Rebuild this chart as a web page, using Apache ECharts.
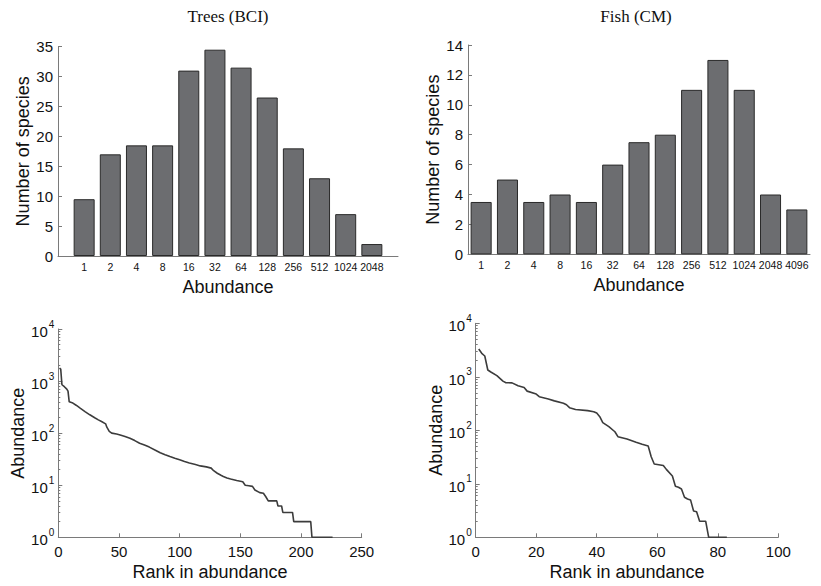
<!DOCTYPE html>
<html>
<head>
<meta charset="utf-8">
<script src="https://cdn.jsdelivr.net/npm/echarts@6/dist/echarts.min.js"></script>
<style>
html,body{margin:0;padding:0;background:#fff;}
#c{width:821px;height:586px;}
</style>
</head>
<body>
<div id="c"></div>
<script>
// ---- data ----
const treeTitle = 'Trees (BCI)';
const fishTitle = 'Fish (CM)';
const treeBins = ['1','2','4','8','16','32','64','128','256','512','1024','2048'];
const treeCounts = [9.5, 17, 18.5, 18.5, 31, 34.5, 31.5, 26.5, 18, 13, 7, 2];
const fishBins = ['1','2','4','8','16','32','64','128','256','512','1024','2048','4096'];
const fishCounts = [3.5, 5, 3.5, 4, 3.5, 6, 7.5, 8, 11, 13, 11, 4, 3];

const treeRanks = [1, 2, 3, 5, 7, 8, 9, 12, 15, 18, 22, 26, 30, 33, 36, 39, 40, 42, 44, 48, 51, 55, 59, 63, 67, 71, 75, 80, 84, 88, 92, 96, 100, 104, 108, 113, 117, 122, 126, 128, 131, 134, 136, 139, 142, 147, 152, 154, 157, 160, 162, 166, 169, 171, 173, 180, 181, 184, 185, 193, 194, 208, 209, 226];
const treeAbund = [1780, 1700, 850, 780, 700, 640, 400, 378, 340, 302, 260, 225, 198, 180, 165, 151, 130, 108, 100, 96, 92, 86, 80, 72, 64, 59, 54, 47, 42, 38.5, 35.5, 33, 30.8, 28.5, 26.7, 25, 23.5, 22.5, 21.3, 19, 17, 15.5, 14.7, 13.8, 13.2, 12.3, 11.7, 10, 9.8, 9.5, 8.1, 7.2, 7, 6, 5, 5, 4, 4, 3, 3, 2, 2, 1, 1];

const fishRanks = [1, 2, 3, 4, 5, 7, 9, 10, 12, 14, 16, 17, 20, 21, 24, 26, 29, 30, 31, 33, 37, 39, 40, 41, 42, 44, 46, 47, 50, 53, 55, 57, 58, 59, 61, 62, 63, 65, 66, 67, 68, 69, 70, 71, 72, 73, 74, 76, 77, 83];
const fishAbund = [3300, 2750, 2450, 1340, 1230, 1050, 830, 775, 770, 680, 630, 540, 475, 425, 385, 355, 320, 300, 265, 245, 233, 223, 210, 180, 139, 117, 94, 76, 69, 60, 55, 51, 32, 23.5, 22.5, 22, 18.6, 14, 9, 8.6, 8, 5.6, 5.2, 5, 3.1, 3, 2, 2, 1, 1];

const treeYTicks = [0, 5, 10, 15, 20, 25, 30, 35];
const fishYTicks = [0, 2, 4, 6, 8, 10, 12, 14];
const logMinorTicks = [2,3,4,5,6,7,8,9,20,30,40,50,60,70,80,90,200,300,400,500,600,700,800,900,2000,3000,4000,5000,6000,7000,8000,9000];

// ---- styles ----
const SANS = '"Liberation Sans", Arial, sans-serif';
const SERIF = '"Liberation Serif", "Times New Roman", serif';
const AXIS_COLOR = '#7a7a7a';
const TEXT_COLOR = '#111';
const BAR_FILL = '#6c6d70';
const BAR_EDGE = '#2a2a2a';
const LINE_COLOR = '#3c3c3c';

const grids = [
  {left: 58, top: 46.7, width: 340, height: 209.3},
  {left: 468, top: 45, width: 342, height: 209.3},
  {left: 58.3, top: 329, width: 303.4, height: 208.3},
  {left: 475.7, top: 323.3, width: 302.6, height: 214}
];

function axisLineStyle() { return {show: true, lineStyle: {color: AXIS_COLOR, width: 1}}; }
function nameStyle() { return {fontFamily: SANS, fontSize: 18, color: TEXT_COLOR}; }

const logLabel = {
  fontFamily: SANS, color: TEXT_COLOR, margin: 4,
  formatter: function (v) {
    const e = Math.round(Math.log10(v));
    return '{b|10}{s|' + e + '}';
  },
  rich: {
    b: {fontFamily: SANS, fontSize: 15, color: TEXT_COLOR, lineHeight: 20, verticalAlign: 'bottom'},
    s: {fontFamily: SANS, fontSize: 10, color: TEXT_COLOR, verticalAlign: 'top', padding: [0, 0, 0, 1]}
  }
};

const option = {
  backgroundColor: '#fff',
  animation: false,
  grid: grids.map(g => Object.assign({containLabel: false, outerBoundsMode: 'none'}, g)),
  graphic: [
    {type: 'text', x: 228, y: 16, style: {text: treeTitle, font: '17px ' + SERIF, fill: TEXT_COLOR, textAlign: 'center', textVerticalAlign: 'middle'}},
    {type: 'text', x: 636, y: 16, style: {text: fishTitle, font: '17px ' + SERIF, fill: TEXT_COLOR, textAlign: 'center', textVerticalAlign: 'middle'}}
  ],
  xAxis: [
    {
      gridIndex: 0, type: 'value', min: 0, max: 13, interval: 1,
      axisLine: axisLineStyle(), axisTick: {show: false}, splitLine: {show: false},
      axisLabel: {fontFamily: SANS, fontSize: 10.5, color: TEXT_COLOR, margin: 5,
        formatter: v => (v >= 1 && v <= treeBins.length) ? treeBins[v - 1] : ''},
      name: 'Abundance', nameLocation: 'middle', nameGap: 22, nameTextStyle: nameStyle()
    },
    {
      gridIndex: 1, type: 'category', data: fishBins, boundaryGap: true,
      axisLine: axisLineStyle(), axisTick: {show: false}, splitLine: {show: false},
      axisLabel: {fontFamily: SANS, fontSize: 10.5, color: TEXT_COLOR, margin: 5, interval: 0},
      name: 'Abundance', nameLocation: 'middle', nameGap: 22, nameTextStyle: nameStyle()
    },
    {
      gridIndex: 2, type: 'value', min: 0, max: 250, interval: 50,
      axisLine: axisLineStyle(), axisTick: {show: true, inside: true, length: 4, lineStyle: {color: AXIS_COLOR}},
      splitLine: {show: false},
      axisLabel: {fontFamily: SANS, fontSize: 15, color: TEXT_COLOR, margin: 7},
      name: 'Rank in abundance', nameLocation: 'middle', nameGap: 26, nameTextStyle: nameStyle()
    },
    {
      gridIndex: 3, type: 'value', min: 0, max: 100, interval: 20,
      axisLine: axisLineStyle(), axisTick: {show: true, inside: true, length: 4, lineStyle: {color: AXIS_COLOR}},
      splitLine: {show: false},
      axisLabel: {fontFamily: SANS, fontSize: 15, color: TEXT_COLOR, margin: 7},
      name: 'Rank in abundance', nameLocation: 'middle', nameGap: 26, nameTextStyle: nameStyle()
    }
  ],
  yAxis: [
    {
      gridIndex: 0, type: 'value', min: treeYTicks[0], max: treeYTicks[treeYTicks.length - 1], interval: treeYTicks[1] - treeYTicks[0],
      axisLine: axisLineStyle(), axisTick: {show: true, inside: true, length: 4, lineStyle: {color: AXIS_COLOR}},
      splitLine: {show: false},
      axisLabel: {fontFamily: SANS, fontSize: 15, color: TEXT_COLOR, margin: 5},
      name: 'Number of species', nameLocation: 'middle', nameGap: 26, nameTextStyle: nameStyle()
    },
    {
      gridIndex: 1, type: 'value', min: fishYTicks[0], max: fishYTicks[fishYTicks.length - 1], interval: fishYTicks[1] - fishYTicks[0],
      axisLine: axisLineStyle(), axisTick: {show: true, inside: true, length: 4, lineStyle: {color: AXIS_COLOR}},
      splitLine: {show: false},
      axisLabel: {fontFamily: SANS, fontSize: 15, color: TEXT_COLOR, margin: 5},
      name: 'Number of species', nameLocation: 'middle', nameGap: 26, nameTextStyle: nameStyle()
    },
    {
      gridIndex: 2, type: 'log', logBase: 10, min: 1, max: 10000,
      axisLine: axisLineStyle(), axisTick: {show: true, inside: true, length: 4, lineStyle: {color: AXIS_COLOR}},
      splitLine: {show: false}, axisLabel: logLabel,
      name: 'Abundance', nameLocation: 'middle', nameGap: 28, nameTextStyle: nameStyle()
    },
    {
      gridIndex: 3, type: 'log', logBase: 10, min: 1, max: 10000,
      axisLine: axisLineStyle(), axisTick: {show: true, inside: true, length: 4, lineStyle: {color: AXIS_COLOR}},
      splitLine: {show: false}, axisLabel: logLabel,
      name: 'Abundance', nameLocation: 'middle', nameGap: 28, nameTextStyle: nameStyle()
    },
    {
      gridIndex: 2, type: 'log', logBase: 10, min: 1, max: 10000, position: 'left',
      axisLine: {show: false}, axisLabel: {show: false}, splitLine: {show: false},
      axisTick: {show: true, inside: true, length: 2, customValues: logMinorTicks, lineStyle: {color: AXIS_COLOR}}
    },
    {
      gridIndex: 3, type: 'log', logBase: 10, min: 1, max: 10000, position: 'left',
      axisLine: {show: false}, axisLabel: {show: false}, splitLine: {show: false},
      axisTick: {show: true, inside: true, length: 2, customValues: logMinorTicks, lineStyle: {color: AXIS_COLOR}}
    }
  ],
  series: [
    {
      type: 'bar', xAxisIndex: 0, yAxisIndex: 0, barWidth: 21,
      itemStyle: {color: BAR_FILL, borderColor: BAR_EDGE, borderWidth: 1},
      data: treeCounts.map((v, i) => [i + 1, v])
    },
    {
      type: 'bar', xAxisIndex: 1, yAxisIndex: 1, barCategoryGap: '20%',
      itemStyle: {color: BAR_FILL, borderColor: BAR_EDGE, borderWidth: 1},
      data: fishCounts
    },
    {
      type: 'line', xAxisIndex: 2, yAxisIndex: 2, showSymbol: false, symbol: 'none',
      lineStyle: {color: LINE_COLOR, width: 1.6},
      data: treeRanks.map((r, i) => [r, treeAbund[i]])
    },
    {
      type: 'line', xAxisIndex: 3, yAxisIndex: 3, showSymbol: false, symbol: 'none',
      lineStyle: {color: LINE_COLOR, width: 1.6},
      data: fishRanks.map((r, i) => [r, fishAbund[i]])
    }
  ]
};

const chart = echarts.init(document.getElementById('c'), null, {renderer: 'svg'});
chart.setOption(option);
</script>
</body>
</html>
